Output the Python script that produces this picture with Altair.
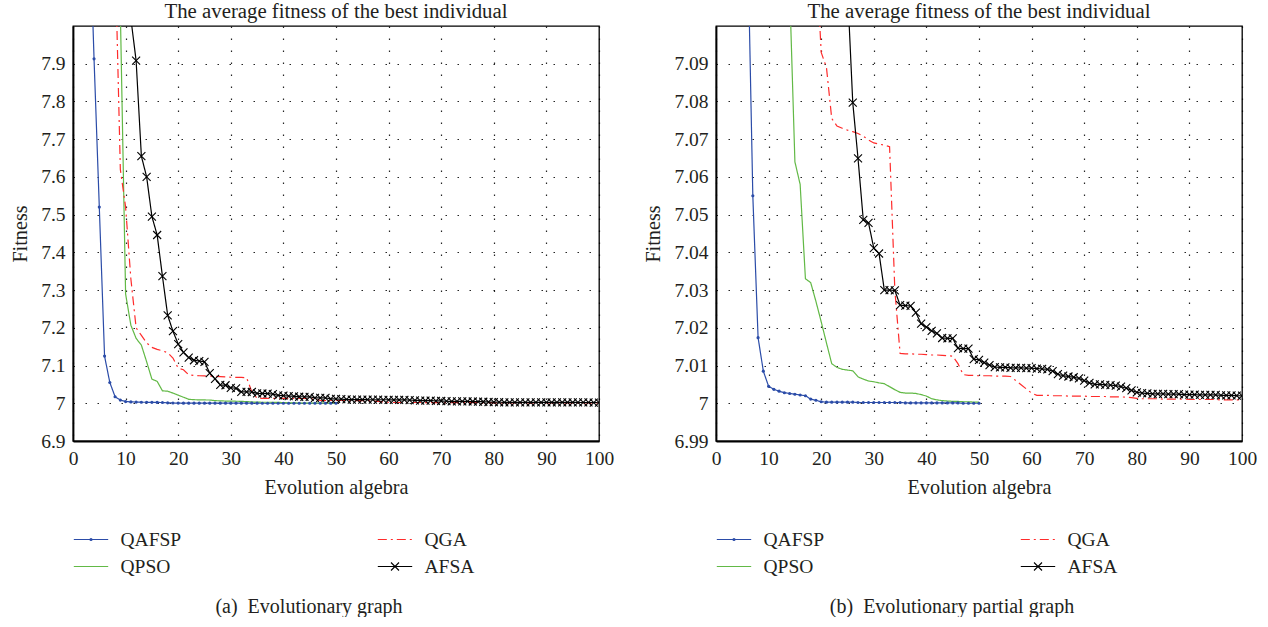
import altair as alt
import pandas as pd

SERIF = "Liberation Serif"
TXT = "#231f20"

ALGOS = ["QAFSP", "QGA", "QPSO", "AFSA"]
COLORS = ["#2b4ca8", "#ff2b2b", "#62b946", "#000000"]
DASHES = [[1, 0], [9, 4, 2, 4], [1, 0], [1, 0]]

TITLE = "The average fitness of the best individual"
CAPTIONS = ["(a)\u00a0 Evolutionary graph", "(b)\u00a0 Evolutionary partial graph"]
X_TICKS = [0, 10, 20, 30, 40, 50, 60, 70, 80, 90, 100]
Y_TICKS_A = [6.9, 7.0, 7.1, 7.2, 7.3, 7.4, 7.5, 7.6, 7.7, 7.8, 7.9]
Y_TICKS_B = [6.99, 7.0, 7.01, 7.02, 7.03, 7.04, 7.05, 7.06, 7.07, 7.08, 7.09]
Y_DOMAIN_A = [6.9, 8.0]
Y_DOMAIN_B = [6.99, 7.10]

GENS_50 = list(range(1, 51))
GENS_100 = list(range(1, 101))

QAFSP = [9.62, 8.95, 8.35, 7.913, 7.52, 7.125, 7.055, 7.0174, 7.0085, 7.0045,
         7.0037, 7.0032, 7.0028, 7.0026, 7.0024, 7.0022, 7.0020, 7.0011, 7.0008, 7.0004,
         7.0003, 7.0003, 7.0003, 7.0003, 7.0003, 7.0003, 7.0002, 7.0002, 7.0002, 7.0002,
         7.0002, 7.0002, 7.0002, 7.0002, 7.0002, 7.0001, 7.0001, 7.0001, 7.0001, 7.0001,
         7.0001, 7.0001, 7.0001, 7.0001, 7.0001, 7.0001, 7.0000, 7.0000, 7.0000, 7.0000]

QPSO = [10.4, 10.0, 9.6, 9.3, 9.1, 9.0, 8.9, 8.8, 8.04, 7.29,
        7.207, 7.172, 7.154, 7.11, 7.064, 7.058, 7.033, 7.032, 7.027, 7.0216,
        7.016, 7.0105, 7.0095, 7.009, 7.0088, 7.0086, 7.007, 7.0064, 7.0059, 7.0057,
        7.0054, 7.0052, 7.0044, 7.0036, 7.0029, 7.0027, 7.0027, 7.0026, 7.0023, 7.0019,
        7.0012, 7.0009, 7.0007, 7.0006, 7.0005, 7.0005, 7.0004, 7.0004, 7.0003, 7.0003]

QGA = [10.2, 9.9, 9.6, 9.3, 9.0, 8.8, 8.6, 8.2, 7.62, 7.52,
       7.33, 7.20, 7.18, 7.16, 7.148, 7.143, 7.139, 7.134, 7.12, 7.093,
       7.089, 7.0755, 7.0735, 7.0729, 7.0724, 7.072, 7.0715, 7.0708, 7.0698, 7.069,
       7.0687, 7.0684, 7.0680, 7.030, 7.0132, 7.0131, 7.0131, 7.0130, 7.0130, 7.0129,
       7.0128, 7.0128, 7.0127, 7.0126, 7.0125, 7.0105, 7.0076, 7.0074, 7.0074, 7.0073,
       7.0073, 7.0073, 7.0072, 7.0072, 7.0072, 7.0071, 7.0060, 7.0049, 7.0038, 7.0027,
       7.0021, 7.0021, 7.0021, 7.0020, 7.0020, 7.0020, 7.0019, 7.0019, 7.0019, 7.0019,
       7.0018, 7.0018, 7.0018, 7.0018, 7.0017, 7.0017, 7.0017, 7.0016, 7.0015, 7.0013,
       7.0012, 7.0012, 7.0012, 7.0012, 7.0011, 7.0011, 7.0011, 7.0011, 7.0011, 7.0010,
       7.0010, 7.0010, 7.0010, 7.0010, 7.0010, 7.0009, 7.0009, 7.0009, 7.0009, 7.0009]

AFSA = [10.6, 10.3, 10.0, 9.7, 9.4, 9.1, 8.9, 8.7, 8.5, 8.3,
        8.02, 7.908, 7.655, 7.60, 7.495, 7.446, 7.337, 7.233, 7.191, 7.157,
        7.135, 7.121, 7.114, 7.112, 7.110, 7.0797, 7.0649, 7.0486, 7.0478, 7.0411,
        7.0397, 7.0300, 7.0300, 7.0299, 7.0260, 7.0259, 7.0258, 7.0240, 7.0211, 7.0202,
        7.0192, 7.0185, 7.0173, 7.0172, 7.0172, 7.0146, 7.0145, 7.0145, 7.0117, 7.0115,
        7.0108, 7.0101, 7.0096, 7.0095, 7.0095, 7.0094, 7.0094, 7.0094, 7.0093, 7.0093,
        7.0092, 7.0091, 7.0090, 7.0085, 7.0077, 7.0073, 7.0071, 7.0069, 7.0066, 7.0060,
        7.0054, 7.0050, 7.0050, 7.0049, 7.0048, 7.0047, 7.0044, 7.0040, 7.0034, 7.0029,
        7.0027, 7.0026, 7.0025, 7.0025, 7.0025, 7.0024, 7.0024, 7.0024, 7.0023, 7.0023,
        7.0023, 7.0022, 7.0022, 7.0022, 7.0022, 7.0021, 7.0021, 7.0021, 7.0020, 7.0020]

rows = []
for name, gens, vals in [("QAFSP", GENS_50, QAFSP), ("QPSO", GENS_50, QPSO),
                         ("QGA", GENS_100, QGA), ("AFSA", GENS_100, AFSA)]:
    for g, v in zip(gens, vals):
        rows.append({"algo": name, "gen": g, "value": v})
df = pd.DataFrame(rows)

LEG_COL = [0, 1, 0, 1]
LEG_ROW = [0, 0, 1, 1]
leg_df = pd.DataFrame({"algo": ALGOS, "col": LEG_COL, "row": LEG_ROW})

PLOT_W = 526
PLOT_H = 415
CROSS = "M-1,-1L1,1M-1,1L1,-1"

color_scale = alt.Scale(domain=ALGOS, range=COLORS)
dash_scale = alt.Scale(domain=ALGOS, range=DASHES)


def panel(ydom, yticks):
    x = alt.X("gen:Q", scale=alt.Scale(domain=[0, 100], nice=False),
              axis=alt.Axis(values=X_TICKS, title="Evolution algebra"))
    y = alt.Y("value:Q", scale=alt.Scale(domain=ydom, nice=False, zero=False),
              axis=alt.Axis(values=yticks, format="~g", title="Fitness"))
    base = alt.Chart(df)
    lines = base.mark_line(clip=True, strokeWidth=1.2).encode(
        x=x, y=y,
        color=alt.Color("algo:N", scale=color_scale, legend=None),
        strokeDash=alt.StrokeDash("algo:N", scale=dash_scale, legend=None),
        order="gen:Q",
    )
    dots = base.transform_filter(alt.datum.algo == "QAFSP").mark_circle(
        clip=True, size=10, color=COLORS[0], opacity=1).encode(x=x, y=y)
    crosses = base.transform_filter(alt.datum.algo == "AFSA").mark_point(
        clip=True, shape=CROSS, size=64, color="#000", strokeWidth=1.1, filled=False,
        opacity=1).encode(x=x, y=y)
    return alt.layer(lines, dots, crosses).properties(
        width=PLOT_W, height=PLOT_H,
        title=alt.TitleParams(TITLE, fontSize=20.8, font=SERIF, fontWeight="normal",
                              color=TXT, offset=3, anchor="middle"))


def legend(caption):
    lx = alt.X("col:Q", scale=alt.Scale(domain=[0, 1], range=[18, 322]), axis=None)
    ly = alt.Y("row:Q", scale=alt.Scale(domain=[0, 1], range=[32.5, 59.5]), axis=None)
    base = alt.Chart(leg_df)
    sym = base.mark_point(shape="M-1,0L1,0", size=1183, filled=False, strokeWidth=1.2,
                          opacity=1).encode(
        x=lx, y=ly,
        color=alt.Color("algo:N", scale=color_scale, legend=None),
        strokeDash=alt.StrokeDash("algo:N", scale=dash_scale, legend=None),
    )
    dot = base.transform_filter(alt.datum.algo == "QAFSP").mark_circle(
        size=10, color=COLORS[0], opacity=1).encode(x=lx, y=ly)
    cross = base.transform_filter(alt.datum.algo == "AFSA").mark_point(
        shape=CROSS, size=64, color="#000", strokeWidth=1.1, filled=False,
        opacity=1).encode(x=lx, y=ly)
    labels = base.mark_text(align="left", baseline="middle", dx=29.5, fontSize=19.5,
                            font=SERIF, color=TXT).encode(x=lx, y=ly, text="algo:N")
    cap = alt.Chart(pd.DataFrame({"caption": [caption]})).mark_text(
        align="center", baseline="middle", fontSize=20, font=SERIF, color=TXT
    ).encode(x=alt.value(236), y=alt.value(100), text="caption:N")
    return alt.layer(sym, dot, cross, labels, cap).properties(
        width=PLOT_W, height=110, view=alt.ViewBackground(strokeWidth=0, stroke=None))


left = alt.vconcat(panel(Y_DOMAIN_A, Y_TICKS_A), legend(CAPTIONS[0]), spacing=8)
right = alt.vconcat(panel(Y_DOMAIN_B, Y_TICKS_B), legend(CAPTIONS[1]), spacing=8)

chart = alt.hconcat(left, right, spacing=28).properties(
    padding={"left": 9, "top": 0, "right": 0, "bottom": 0}
).configure_view(
    stroke="#000", strokeWidth=1.3
).configure_axis(
    labelFont=SERIF, titleFont=SERIF, labelFontSize=19.5, titleFontSize=20.2,
    labelColor=TXT, titleColor=TXT, titleFontWeight="normal",
    ticks=False, labelPadding=8, titlePadding=10,
    domain=True, domainColor="#000", domainWidth=1.8,
    grid=True, gridColor="#000", gridDash=[1.5, 10.5], gridWidth=1.2, gridOpacity=0.85,
    labelFlush=False,
)

chart.save("out.html", embed_options={"renderer": "svg", "actions": False})
